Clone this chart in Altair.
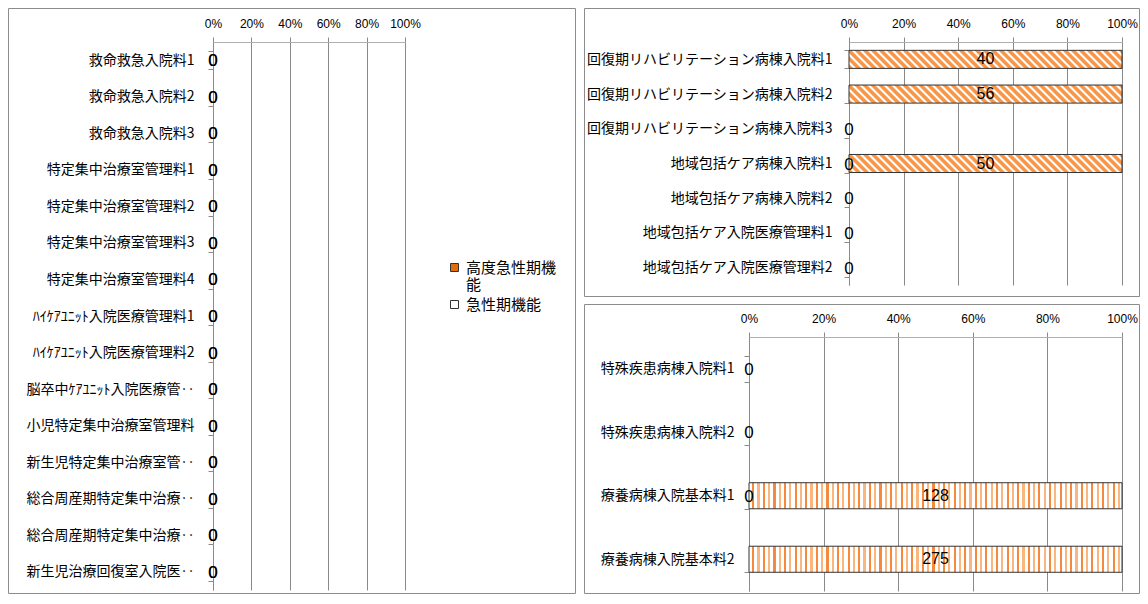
import json
import altair as alt
import pandas as pd

FONT_JP = "Noto Sans CJK JP"
FONT_NUM = "Liberation Sans"

# ---------------- data ----------------
LEFT_CATS = [
    "救命救急入院料1", "救命救急入院料2", "救命救急入院料3",
    "特定集中治療室管理料1", "特定集中治療室管理料2", "特定集中治療室管理料3",
    "特定集中治療室管理料4", "ﾊｲｹｱﾕﾆｯﾄ入院医療管理料1", "ﾊｲｹｱﾕﾆｯﾄ入院医療管理料2",
    "脳卒中ｹｱﾕﾆｯﾄ入院医療管‥", "小児特定集中治療室管理料", "新生児特定集中治療室管‥",
    "総合周産期特定集中治療‥", "総合周産期特定集中治療‥", "新生児治療回復室入院医‥",
]
LEFT_HIGH = [0, 0, 0, 0, 0, 0, 0, 0, 0, 0, 0, 0, 0, 0, 0]
LEFT_ACUTE = [0, 0, 0, 0, 0, 0, 0, 0, 0, 0, 0, 0, 0, 0, 0]
LEFT_SERIES = ["高度急性期機能", "急性期機能"]
LEFT_COLORS = ["#E46C0A", "#FFFFFF"]

TR_CATS = [
    "回復期リハビリテーション病棟入院料1", "回復期リハビリテーション病棟入院料2",
    "回復期リハビリテーション病棟入院料3", "地域包括ケア病棟入院料1",
    "地域包括ケア病棟入院料2", "地域包括ケア入院医療管理料1", "地域包括ケア入院医療管理料2",
]
TR_ACUTE = [None, None, None, 0, None, None, None]
TR_RECOVERY = [40, 56, 0, 50, 0, 0, 0]

BR_CATS = ["特殊疾患病棟入院料1", "特殊疾患病棟入院料2", "療養病棟入院基本料1", "療養病棟入院基本料2"]
BR_ACUTE = [None, None, 0, None]
BR_CHRONIC = [0, 0, 128, 275]

TICKS = [0, 0.2, 0.4, 0.6, 0.8, 1.0]


def long_df(cats, series):
    rows = []
    for ord_, (name, vals) in enumerate(series):
        for i, v in enumerate(vals):
            if v is not None:
                rows.append({"idx": i, "series": name, "ord": ord_, "value": v})
    return pd.DataFrame(rows)


left_df = long_df(LEFT_CATS, [("高度急性期機能", LEFT_HIGH), ("急性期機能", LEFT_ACUTE)])
tr_df = long_df(TR_CATS, [("急性期機能", TR_ACUTE), ("回復期機能", TR_RECOVERY)])
br_df = long_df(BR_CATS, [("急性期機能", BR_ACUTE), ("慢性期機能", BR_CHRONIC)])


# ---------------- styling helpers ----------------
def stripe_stops(total_px, period_px, segs):
    stops = []
    k = 0
    while k * period_px < total_px:
        for s, e, c in segs:
            a = (k * period_px + s * period_px) / total_px
            b = (k * period_px + e * period_px) / total_px
            if a >= 1:
                break
            stops.append({"offset": round(a, 5), "color": c})
            stops.append({"offset": round(min(b, 1.0), 5), "color": c})
        k += 1
    return stops


def diag_gradient(w, h, period_px):
    r = h / w
    total = w * (1 + r) * (1 + r * r)
    segs = [(0.0, 0.45, "#F79646"), (0.45, 0.58, "#FBC8A0"),
            (0.58, 0.88, "#FFFFFF"), (0.88, 1.0, "#FBC8A0")]
    return {"gradient": "linear", "x1": 0, "y1": 1, "x2": 1 + r, "y2": 1 - r * (1 + r),
            "stops": stripe_stops(total, period_px, segs)}


def vert_gradient(w, period_px):
    segs = [(0.0, 0.3, "#FFFFFF"), (0.3, 0.5, "#F68A3C"),
            (0.5, 0.8, "#FFFFFF"), (0.8, 1.0, "#FBB680")]
    return {"gradient": "linear", "x1": 0, "y1": 0, "x2": 1, "y2": 0,
            "stops": stripe_stops(w, period_px, segs)}


def panel(df, cats, frame_w, plot_x, plot_h, frame_top, frame_bottom, pad_inner,
          bar_fill=None, legend=None, label_pad=12):
    """frame_w: whole panel width; plot_x: [start, end] of plot inside it;
    frame_top/frame_bottom: frame edges relative to the plot's top."""
    base = (
        alt.Chart(df)
        .transform_joinaggregate(total="sum(value)", groupby=["idx"])
        .transform_calculate(pct="datum.total > 0 ? datum.value / datum.total : 0")
        .transform_stack(stack="pct", groupby=["idx"], as_=["x0", "x1"],
                         sort=[alt.SortField("ord", order="ascending")])
        .transform_calculate(mid="(datum.x0 + datum.x1) / 2",
                             lbl="format(datum.value, 'd')")
    )
    xscale = alt.Scale(domain=[0, 1], nice=False, zero=True, range=plot_x)
    xaxis = alt.Axis(orient="top", values=TICKS, format=".0%",
                     grid=True, gridColor="#8a8a8a", gridWidth=1,
                     domainColor="#b0b0b0", tickColor="#8a8a8a", tickSize=5,
                     labelFont=FONT_NUM, labelFontSize=12, labelColor="#000",
                     labelPadding=7, labelFlush=False, labelOverlap=False, title=None)
    yscale = alt.Scale(paddingInner=pad_inner, paddingOuter=pad_inner / 2)
    yaxis = alt.Axis(orient="left", offset=-plot_x[0],
                     labelExpr=json.dumps(cats, ensure_ascii=False) + "[datum.value]",
                     domainColor="#8a8a8a", tickColor="#8a8a8a", tickSize=5,
                     tickBand="extent", labelFont=FONT_JP, labelFontSize=14,
                     labelColor="#000", labelPadding=label_pad, labelLimit=400,
                     grid=False, title=None)
    y = alt.Y("idx:O", scale=yscale, axis=yaxis)

    frame = alt.Chart(pd.DataFrame({"f": [0]})).mark_rect(
        fillOpacity=0, stroke="#8c8c8c", strokeWidth=1, clip=False
    ).encode(x=alt.value(0.5), x2=alt.value(frame_w - 0.5),
             y=alt.value(frame_top + 0.5), y2=alt.value(frame_bottom - 0.5))

    if legend is not None:
        bars = base.mark_bar(strokeWidth=0).encode(
            x=alt.X("x0:Q", scale=xscale, axis=xaxis), x2="x1:Q", y=y,
            color=alt.Color("series:N",
                            scale=alt.Scale(domain=LEFT_SERIES, range=LEFT_COLORS),
                            legend=alt.Legend(
                                orient="none", legendX=legend[0], legendY=legend[1],
                                title=None, symbolType="square", symbolSize=64,
                                symbolStrokeColor="#333", symbolStrokeWidth=1,
                                labelFont=FONT_JP, labelFontSize=15, labelColor="#000",
                                rowPadding=4, labelLimit=300,
                                labelExpr="datum.label == '高度急性期機能' ? ['高度急性期機', '能'] : datum.label")),
        )
    else:
        bars = base.mark_bar(fill=bar_fill, stroke="#333", strokeWidth=1).encode(
            x=alt.X("x0:Q", scale=xscale, axis=xaxis), x2="x1:Q", y=y,
        ).transform_filter("datum.value > 0")

    values = base.mark_text(font=FONT_NUM, fontSize=16, color="#000",
                            align="center", baseline="middle").encode(
        x=alt.X("mid:Q", scale=xscale, axis=xaxis), y=y, text="lbl:N"
    ).transform_filter("datum.value > 0")
    zeros = base.mark_text(font=FONT_NUM, fontSize=17, color="#000",
                           align="center", baseline="middle", dy=1).encode(
        x=alt.X("x0:Q", scale=xscale, axis=xaxis), y=y, text="lbl:N"
    ).transform_filter("datum.value == 0")
    return alt.layer(frame, bars, values, zeros).properties(width=frame_w, height=plot_h)


# ---------------- panels ----------------
TR_PLOT_X, TR_H, TR_PI = [265, 538], 243, 0.48
BR_PLOT_X, BR_H, BR_PI = [165, 538], 254, 0.59
tr_bar_h = TR_H / len(TR_CATS) * (1 - TR_PI)

left = panel(left_df, LEFT_CATS, 568, [205, 397], 548, -34, 552, 0.5,
             legend=(439, 218), label_pad=14)
tr = panel(tr_df, TR_CATS, 556, TR_PLOT_X, TR_H, -34, 255, TR_PI,
           bar_fill=diag_gradient(TR_PLOT_X[1] - TR_PLOT_X[0], tr_bar_h, 8.0),
           label_pad=12)
br = panel(br_df, BR_CATS, 556, BR_PLOT_X, BR_H, -33, 257, BR_PI,
           bar_fill=vert_gradient(BR_PLOT_X[1] - BR_PLOT_X[0], 10.6), label_pad=10)

right = alt.vconcat(tr, br, spacing=7)
chart = (
    alt.hconcat(left, right, spacing=8)
    .properties(padding=0)
    .configure_view(stroke=None)
)

chart.save("out.html", embed_options={"renderer": "svg", "actions": False})
